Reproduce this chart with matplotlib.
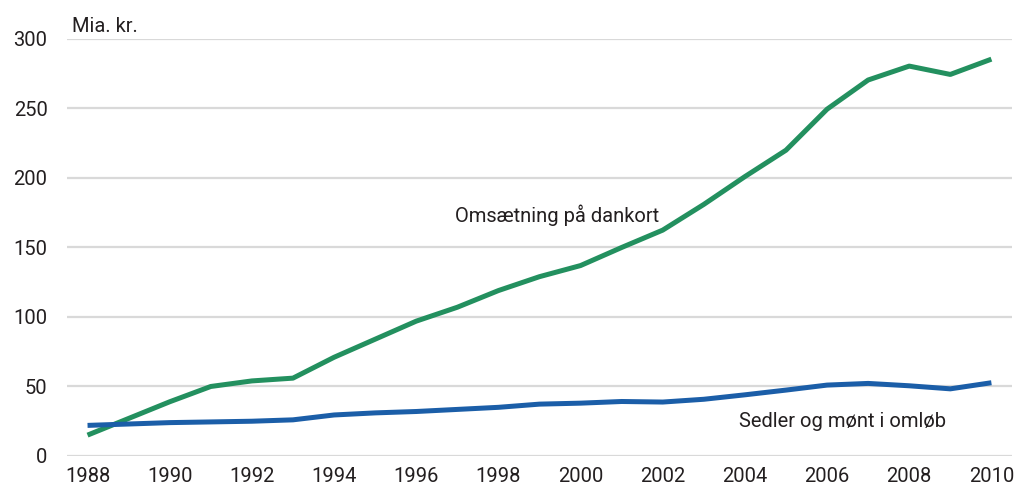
import numpy as np
import matplotlib
matplotlib.use("Agg")
import matplotlib.pyplot as plt

plt.rcParams['font.family'] = ['Roboto', 'DejaVu Sans']

years = list(range(1988, 2011))
dankort = [15, 27, 39, 50, 54, 56, 71, 84, 97, 107, 119, 129, 137, 150, 162.5,
           181, 201, 220, 249.5, 270.5, 280.5, 274.5, 285.5]
sedler = [22, 23, 24, 24.5, 25, 26, 29.5, 31, 32, 33.5, 35, 37.3, 38, 39.2, 38.8,
          40.8, 44, 47.4, 51, 52.2, 50.5, 48.3, 52.7]

xticks = list(range(1988, 2011, 2))
yticks = [0, 50, 100, 150, 200, 250, 300]

green = '#23905f'
blue = '#1b5ea8'
text_col = '#231f20'
fsize = 14.5

fig = plt.figure(figsize=(10.26, 4.93), dpi=100)
ax = fig.add_axes([0.0653, 0.0751, 0.921, 0.8458])

# grid lines
for v in yticks:
    ax.axhline(v, color='#d9d9d9', lw=1.6, zorder=1)

ax.plot(years, dankort, color=green, lw=3.6, solid_capstyle='butt', zorder=3, clip_on=False)
ax.plot(years, sedler, color=blue, lw=3.6, solid_capstyle='butt', zorder=3, clip_on=False)

ax.set_xlim(1987.5, 2010.5)
ax.set_ylim(0, 300)
ax.set_xticks(xticks)
ax.set_yticks(yticks)
ax.tick_params(axis='both', length=0, labelsize=fsize, colors=text_col)
ax.tick_params(axis='y', pad=14)
ax.tick_params(axis='x', pad=8)
for s in ax.spines.values():
    s.set_visible(False)

ax.text(1999.43, 173, 'Omsætning på dankort', fontsize=fsize, color=text_col,
        ha='center', va='center')
ax.text(2006.37, 24.5, 'Sedler og mønt i omløb', fontsize=fsize, color=text_col,
        ha='center', va='center')
ax.text(0.005, 1.008, 'Mia. kr.', transform=ax.transAxes, fontsize=fsize,
        color=text_col, ha='left', va='bottom')

fig.savefig('out.png', dpi=100)
